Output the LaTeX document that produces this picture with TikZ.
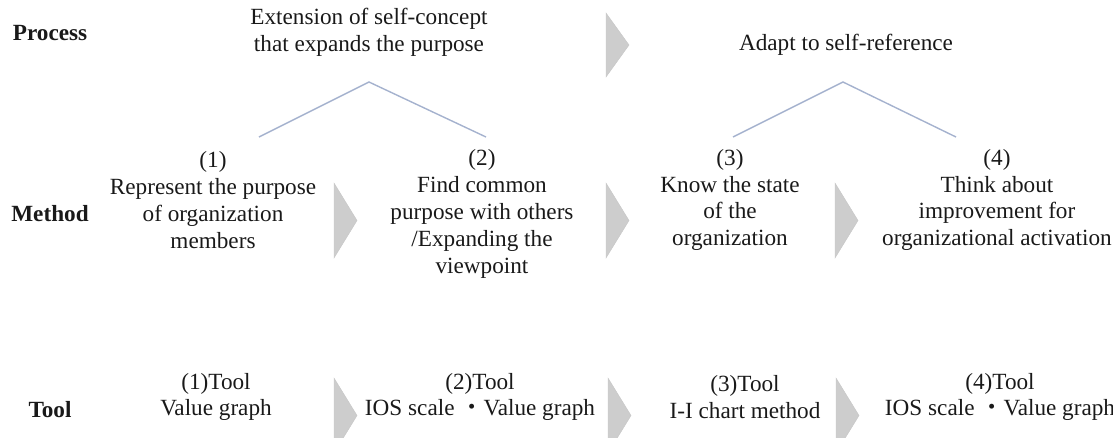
\documentclass[tikz,border=0pt]{standalone}
\usepackage{fontspec}
\setmainfont{Liberation Serif}
\newfontfamily\cjk{Noto Sans CJK JP}
\definecolor{linkblue}{RGB}{165,178,206}
\definecolor{chevgray}{RGB}{205,205,205}
\definecolor{txt}{RGB}{25,25,25}
\tikzset{
  lbl/.style={font=\fontsize{16.5}{19.1}\selectfont\bfseries, text=txt, inner sep=0pt},
  txtbox/.style={font=\fontsize{16.5}{19.1}\selectfont, text=txt, align=center, inner sep=0pt},
  link/.style={draw=linkblue, line width=1pt},
  chev/.style={fill=chevgray, draw=black!22, line width=0.3pt},
}
% gray arrow head: left x, top y, bottom y
\newcommand{\chevmark}[3]{\filldraw[chev] (#1,#2) -- (#1+23,{(#2+#3)/2}) -- (#1,#3) -- cycle;}
\begin{document}
\begin{tikzpicture}[x=0.025cm,y=-0.025cm]
    \clip (0,0) rectangle (1113,437);

    % Filas
    \node[lbl] (proc) at (50,33) {Process};
    \node[lbl] (meth) at (50,214) {Method};
    \node[lbl] (tool) at (50,410) {Tool};

    % Proceso
    \node[txtbox] (p1) at (369,32) {Extension of self-concept\\that expands the purpose};
    \node[txtbox] (p2) at (846,45) {Adapt to self-reference};
    \chevmark{606}{13}{77}

    % Uniones
    \coordinate (ap1) at (369,82);
    \coordinate (f1) at (259,137);
    \coordinate (f2) at (486,137);
    \coordinate (ap2) at (843,82);
    \coordinate (f3) at (733,137);
    \coordinate (f4) at (956,137);
    \draw[link] (f1) -- (ap1) -- (f2);
    \draw[link] (f3) -- (ap2) -- (f4);

    % Metodo
    \node[txtbox] (m1) at (213,200) {(1)\\Represent the purpose\\of organization\\members};
    \node[txtbox] (m2) at (482,214) {(2)\\Find common\\purpose with others\\/Expanding the\\viewpoint};
    \node[txtbox] (m3) at (730,200) {(3)\\Know the state\\of the\\organization};
    \node[txtbox] (m4) at (997,200) {(4)\\Think about\\improvement for\\organizational activation};
    \chevmark{334}{183}{258}
    \chevmark{606}{183}{258}
    \chevmark{835}{183}{258}

    % Herramientas
    \node[txtbox] (t1) at (216,397) {(1)Tool\\Value graph};
    \node[txtbox] (t2) at (480,397) {(2)Tool\\IOS scale {\cjk ・}Value graph};
    \node[txtbox] (t3) at (745,397) {(3)Tool\\I-I chart method};
    \node[txtbox] (t4) at (1000,397) {(4)Tool\\IOS scale {\cjk ・}Value graph};
    \chevmark{334}{378}{453}
    \chevmark{608}{378}{453}
    \chevmark{836}{378}{453}
\end{tikzpicture}
\end{document}
